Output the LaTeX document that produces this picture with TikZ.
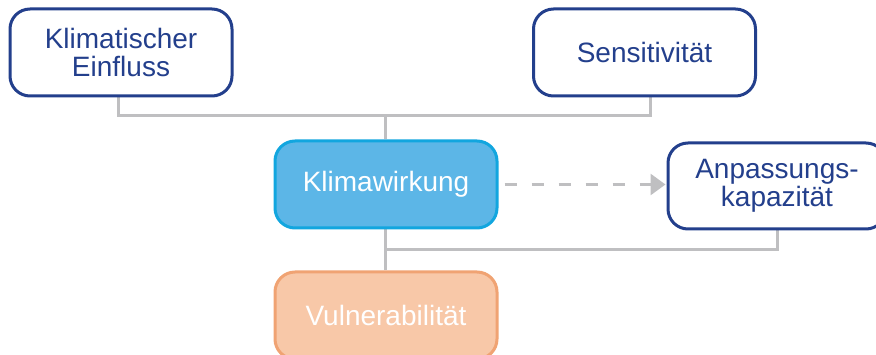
\documentclass[tikz,border=0pt]{standalone}
\usepackage{fontspec}
\setmainfont{Liberation Sans}
\usetikzlibrary{arrows.meta,backgrounds}
\definecolor{navy}{HTML}{233F8C}
\definecolor{kwfill}{HTML}{5CB6E7}
\definecolor{kwline}{HTML}{12A6DF}
\definecolor{vufill}{HTML}{F8C8A8}
\definecolor{vuline}{HTML}{F0A373}
\definecolor{conngrey}{HTML}{BFBFC1}
\tikzset{
  box/.style={rounded corners=20pt, minimum width=222pt, minimum height=87pt,
    inner sep=0pt, line width=3pt, align=center,
    font=\fontsize{28}{28}\selectfont},
  bluebox/.style={box, draw=navy, fill=white, text=navy},
  kwbox/.style={box, draw=kwline, fill=kwfill, text=white},
  vubox/.style={box, draw=vuline, fill=vufill, text=white},
  conn/.style={draw=conngrey, line width=3pt},
  dasharrow/.style={draw=conngrey, line width=3pt, dash pattern=on 12pt off 15pt,
    -{Triangle[length=15pt,width=21pt]}}
}
\begin{document}
\begin{tikzpicture}[x=1pt,y=-1pt]
\clip (0,0) rectangle (876,355);
\node[bluebox] (ke) at (121,52.5) {Klimatischer\\Einfluss};
\node[bluebox] (se) at (644.5,52.5) {Sensitivität};
\node[kwbox] (kw) at (386,184.5) {Klimawirkung};
\node[bluebox, minimum width=218pt, minimum height=86pt] (ak) at (777,186) {Anpassungs-\\kapazität};
\node[vubox] (vu) at (386,315.5) {Vulnerabilität};
\coordinate (j1) at (385,116);
\coordinate (j2) at (385,250);
\begin{scope}[on background layer]
\draw[conn] ([xshift=-3pt]ke.south) |- (j1) -| ([xshift=6pt]se.south);
\draw[conn] (j1) -- ([xshift=-1pt]kw.north);
\draw[conn] ([xshift=-1pt]kw.south) -- ([xshift=-1pt]vu.north);
\draw[conn] (ak.south) |- (j2);
\end{scope}
\draw[dasharrow] ([xshift=6pt]kw.east) -- ([xshift=-1pt]kw.east -| ak.west);
\end{tikzpicture}
\end{document}
